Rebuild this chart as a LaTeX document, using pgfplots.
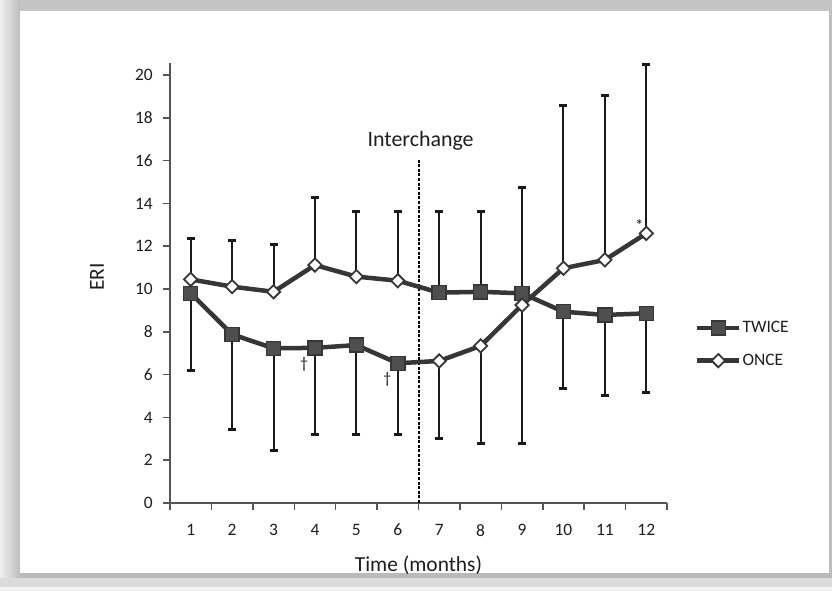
\documentclass[border=0pt]{standalone}
\usepackage{fontspec}
\setmainfont{Carlito}
\usepackage{pgfplots}
\usepackage{pgfplotstable}
\pgfplotsset{compat=1.18}

\definecolor{serieline}{HTML}{363636}
\definecolor{sqfill}{HTML}{4E4E4E}
\definecolor{errcol}{HTML}{1A1A1A}
\definecolor{axiscol}{HTML}{555555}
\definecolor{txtcol}{HTML}{1E1E1E}
\definecolor{framegray}{HTML}{C4C4C4}

% ERI by month for each patient group; one-sided SD bars
% (errp = upward, errm = downward).
% Group A: twice daily in months 1-6, once daily in months 7-12.
\pgfplotstableread{
month eri errp errm
1  9.80  0    3.62
2  7.88  0    4.44
3  7.23  0    4.79
4  7.25  0    4.04
5  7.38  0    4.17
6  6.53  0    3.32
7  6.64  0    3.62
8  7.34  0    4.55
9  9.25  0    6.46
10 10.97 7.63 0
11 11.36 7.67 0
12 12.60 7.90 0
}\groupA

% Group B: once daily in months 1-6, twice daily in months 7-12.
\pgfplotstableread{
month eri errp errm
1  10.45 1.92 0
2  10.11 2.15 0
3  9.87  2.23 0
4  11.12 3.15 0
5  10.58 3.06 0
6  10.39 3.25 0
7  9.83  3.77 0
8  9.87  3.73 0
9  9.80  4.93 0
10 8.94  0    3.58
11 8.79  0    3.78
12 8.86  0    3.69
}\groupB

\pgfplotsset{
  errstyle/.style={
    forget plot, draw=none, mark=none,
    error bars/.cd, y dir=both, y explicit,
    error bar style={draw=errcol, line width=2bp, solid},
    error mark options={draw=errcol, line width=3bp, mark size=4bp, rotate=90},
  },
  twicemark/.style={only marks, mark=square*, mark size=7bp,
    mark options={fill=sqfill, draw=serieline, line width=1.5bp}},
  oncemark/.style={only marks, mark=square*, mark size=4.7bp,
    mark options={rotate=45, fill=white, draw=serieline, line width=1.8bp}},
  groupline/.style={forget plot, serieline, line width=4.5bp, mark=none},
}

\begin{document}
\begin{tikzpicture}[x=1bp,y=1bp]
\useasboundingbox (0,0) rectangle (832,591);
% page frame
\fill[framegray] (0,0) rectangle (832,591);
\shade[left color=black!6, right color=black!26] (0,0) rectangle (20,591);
\fill[black!26] (829,0) rectangle (832,580);
\fill[black!5] (0,0) rectangle (832,4);
\fill[black!14] (0,4) rectangle (832,13);
\fill[black!27] (20,13) rectangle (832,18);
\fill[white] (20,18) rectangle (829,580);

\begin{axis}[
  at={(170bp,88bp)}, anchor=south west,
  scale only axis, width=497bp, height=439.7bp,
  xmin=0.5, xmax=12.5, ymin=0, ymax=20.55,
  clip=false,
  axis lines=left,
  axis line style={-, line width=2bp, axiscol},
  xtick={1,...,12}, ytick={0,2,...,20},
  minor xtick={0.5,1.5,...,12.5},
  tick align=outside,
  major tick length=7bp, minor tick length=7bp,
  tick style={line width=1.5bp, axiscol},
  major x tick style={draw=none},
  /pgf/number format/assume math mode=true,
  tick label style={font=\fontsize{17.5}{20}\selectfont, text=txtcol},
  xticklabel style={inner sep=0pt, yshift=-14bp},
  yticklabel style={inner sep=0pt, xshift=-10bp},
  xlabel={Time (months)}, ylabel={ERI},
  label style={font=\fontsize{21.5}{24}\selectfont, text=txtcol},
  xlabel style={at={(axis description cs:0.5,0)}, anchor=center, yshift=-62bp},
  ylabel style={at={(axis description cs:-0.147,0.514)}, anchor=center},
  legend style={at={(1.056,0.361)}, anchor=west, draw=none, fill=none,
    inner sep=0pt, row sep=18bp, font=\fontsize{17.5}{20}\selectfont,
    text=txtcol, nodes={inner sep=1bp}},
  legend cell align=left,
  legend image code/.code={%
    \draw[serieline, line width=4.5bp] (0bp,0bp) -- (42bp,0bp);
    \draw[#1] plot coordinates {(21bp,0bp)};},
]
% interchange line
\addplot[forget plot, black, line width=2bp, dash pattern=on 3bp off 1.6bp]
  coordinates {(6.5,0) (6.5,16.1)};

% SD bars
\addplot[errstyle] table[x=month, y=eri, y error plus=errp, y error minus=errm] {\groupA};
\addplot[errstyle] table[x=month, y=eri, y error plus=errp, y error minus=errm] {\groupB};

% group trajectories
\addplot[groupline] table[x=month, y=eri] {\groupB};
\addplot[groupline] table[x=month, y=eri] {\groupA};

% treatment markers
\addplot[twicemark, restrict x to domain=1:6] table[x=month, y=eri] {\groupA};
\addlegendentry{TWICE}
\addplot[oncemark, restrict x to domain=1:6] table[x=month, y=eri] {\groupB};
\addlegendentry{ONCE}
\addplot[twicemark, forget plot, restrict x to domain=7:12] table[x=month, y=eri] {\groupB};
\addplot[oncemark, forget plot, restrict x to domain=7:12] table[x=month, y=eri] {\groupA};

\node[font=\fontsize{22}{24}\selectfont, text=txtcol, anchor=base] at (axis cs:6.55,16.64) {Interchange};
\node[font=\fontsize{16}{18}\selectfont, text=txtcol] at (axis cs:3.74,6.5) {†};
\node[font=\fontsize{16}{18}\selectfont, text=txtcol] at (axis cs:5.75,5.8) {†};
\node[font=\fontsize{17}{17}\selectfont, text=txtcol] at (axis cs:11.83,12.95) {*};
\end{axis}
\end{tikzpicture}
\end{document}
